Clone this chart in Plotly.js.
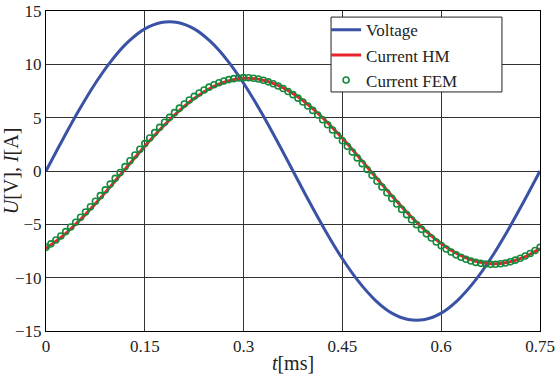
<!DOCTYPE html>
<html><head><meta charset="utf-8">
<script src="https://cdn.plot.ly/plotly-3.0.1.min.js"></script>
<style>body{margin:0;padding:0;background:#fff}#chart{width:558px;height:375px}</style>
</head><body><div id="chart"></div>
<script>
// time [ms] for voltage and HM current (0.025 ms step)
const tLine = [0,0.025,0.05,0.075,0.1,0.125,0.15,0.175,0.2,0.225,0.25,0.275,0.3,0.325,0.35,0.375,0.4,0.425,0.45,0.475,0.5,0.525,0.55,0.575,0.6,0.625,0.65,0.675,0.7,0.725,0.75];
const voltage = [0,2.91,5.69,8.23,10.40,12.12,13.32,13.92,13.92,13.32,12.12,10.40,8.23,5.69,2.91,0,-2.91,-5.69,-8.23,-10.40,-12.12,-13.32,-13.92,-13.92,-13.32,-12.12,-10.40,-8.23,-5.69,-2.91,0];
const currentHM = [-7.26,-6.11,-4.69,-3.06,-1.30,0.52,2.31,4.00,5.52,6.80,7.78,8.42,8.69,8.58,8.10,7.26,6.11,4.69,3.06,1.30,-0.52,-2.31,-4.00,-5.52,-6.80,-7.78,-8.42,-8.69,-8.58,-8.10,-7.26];
// FEM samples (0.0075 ms step)
const tFEM = [0,0.0075,0.015,0.0225,0.03,0.0375,0.045,0.0525,0.06,0.0675,0.075,0.0825,0.09,0.0975,0.105,0.1125,0.12,0.1275,0.135,0.1425,0.15,0.1575,0.165,0.1725,0.18,0.1875,0.195,0.2025,0.21,0.2175,0.225,0.2325,0.24,0.2475,0.255,0.2625,0.27,0.2775,0.285,0.2925,0.3,0.3075,0.315,0.3225,0.33,0.3375,0.345,0.3525,0.36,0.3675,0.375,0.3825,0.39,0.3975,0.405,0.4125,0.42,0.4275,0.435,0.4425,0.45,0.4575,0.465,0.4725,0.48,0.4875,0.495,0.5025,0.51,0.5175,0.525,0.5325,0.54,0.5475,0.555,0.5625,0.57,0.5775,0.585,0.5925,0.6,0.6075,0.615,0.6225,0.63,0.6375,0.645,0.6525,0.66,0.6675,0.675,0.6825,0.69,0.6975,0.705,0.7125,0.72,0.7275,0.735,0.7425,0.75];
const currentFEM = [-7.16,-6.83,-6.47,-6.09,-5.68,-5.25,-4.80,-4.34,-3.85,-3.35,-2.83,-2.31,-1.77,-1.23,-0.69,-0.14,0.41,0.96,1.50,2.04,2.57,3.09,3.60,4.09,4.57,5.03,5.47,5.89,6.28,6.65,7.00,7.31,7.60,7.86,8.08,8.28,8.44,8.57,8.66,8.72,8.75,8.74,8.70,8.62,8.51,8.36,8.18,7.97,7.73,7.46,7.16,6.83,6.47,6.09,5.68,5.25,4.80,4.34,3.85,3.35,2.83,2.31,1.77,1.23,0.69,0.14,-0.41,-0.96,-1.50,-2.04,-2.57,-3.09,-3.60,-4.09,-4.57,-5.03,-5.47,-5.89,-6.28,-6.65,-7.00,-7.31,-7.60,-7.86,-8.08,-8.28,-8.44,-8.57,-8.66,-8.72,-8.75,-8.74,-8.70,-8.62,-8.51,-8.36,-8.18,-7.97,-7.73,-7.46,-7.16];
const xTicks = [0,0.15,0.3,0.45,0.6,0.75];
const xTickText = ['0','0.15','0.3','0.45','0.6','0.75'];
const yTicks = [-15,-10,-5,0,5,10,15];

const FAM = 'Liberation Serif';
const traces = [
  {x: tLine, y: voltage, name: 'Voltage', mode: 'lines', line: {color: '#3a52a6', width: 3, shape: 'spline'}},
  {x: tLine, y: currentHM, name: 'Current HM', mode: 'lines', line: {color: '#e8232b', width: 3, shape: 'spline'}},
  {x: tFEM, y: currentFEM, name: 'Current FEM', mode: 'markers',
   marker: {symbol: 'circle-open', size: 6, color: '#138a3c', line: {width: 1.6, color: '#138a3c'}}}
];
const layout = {
  width: 558, height: 375,
  margin: {l: 46, r: 18, t: 11, b: 44},
  paper_bgcolor: '#fff', plot_bgcolor: '#fff',
  font: {family: FAM, size: 17, color: '#222'},
  showlegend: true,
  legend: {x: 0.567, y: 0.996, xanchor: 'left', yanchor: 'top', bgcolor: 'rgba(0,0,0,0)',
    borderwidth: 0, font: {size: 17},
    tracegroupgap: 0},
  shapes: [{type: 'rect', xref: 'paper', yref: 'paper', x0: 0.577, x1: 0.923, y0: 0.747, y1: 0.981,
    fillcolor: '#fff', line: {color: '#222', width: 1}, layer: 'above'}],
  xaxis: {showline: true, mirror: true, linecolor: '#000', linewidth: 1,
    showgrid: true, gridcolor: '#333', gridwidth: 1, zeroline: false, ticks: '',
    range: [0, 0.75], tickvals: xTicks, ticktext: xTickText,
    title: {text: '<i>t</i>[ms]', standoff: 0}},
  yaxis: {showline: true, mirror: true, linecolor: '#000', linewidth: 1,
    showgrid: true, gridcolor: '#333', gridwidth: 1, zeroline: false, ticks: '',
    range: [-15, 15], tickvals: yTicks,
    title: {text: '<i>U</i>[V], <i>I</i>[A]', standoff: 2}}
};
const cfg = {displayModeBar: false};
Plotly.newPlot('chart', traces, layout, cfg);
if (document.fonts && document.fonts.load) {
  document.fonts.load('17px "Liberation Serif"').then(function () {
    Plotly.newPlot('chart', traces, layout, cfg);
  });
}
</script></body></html>
